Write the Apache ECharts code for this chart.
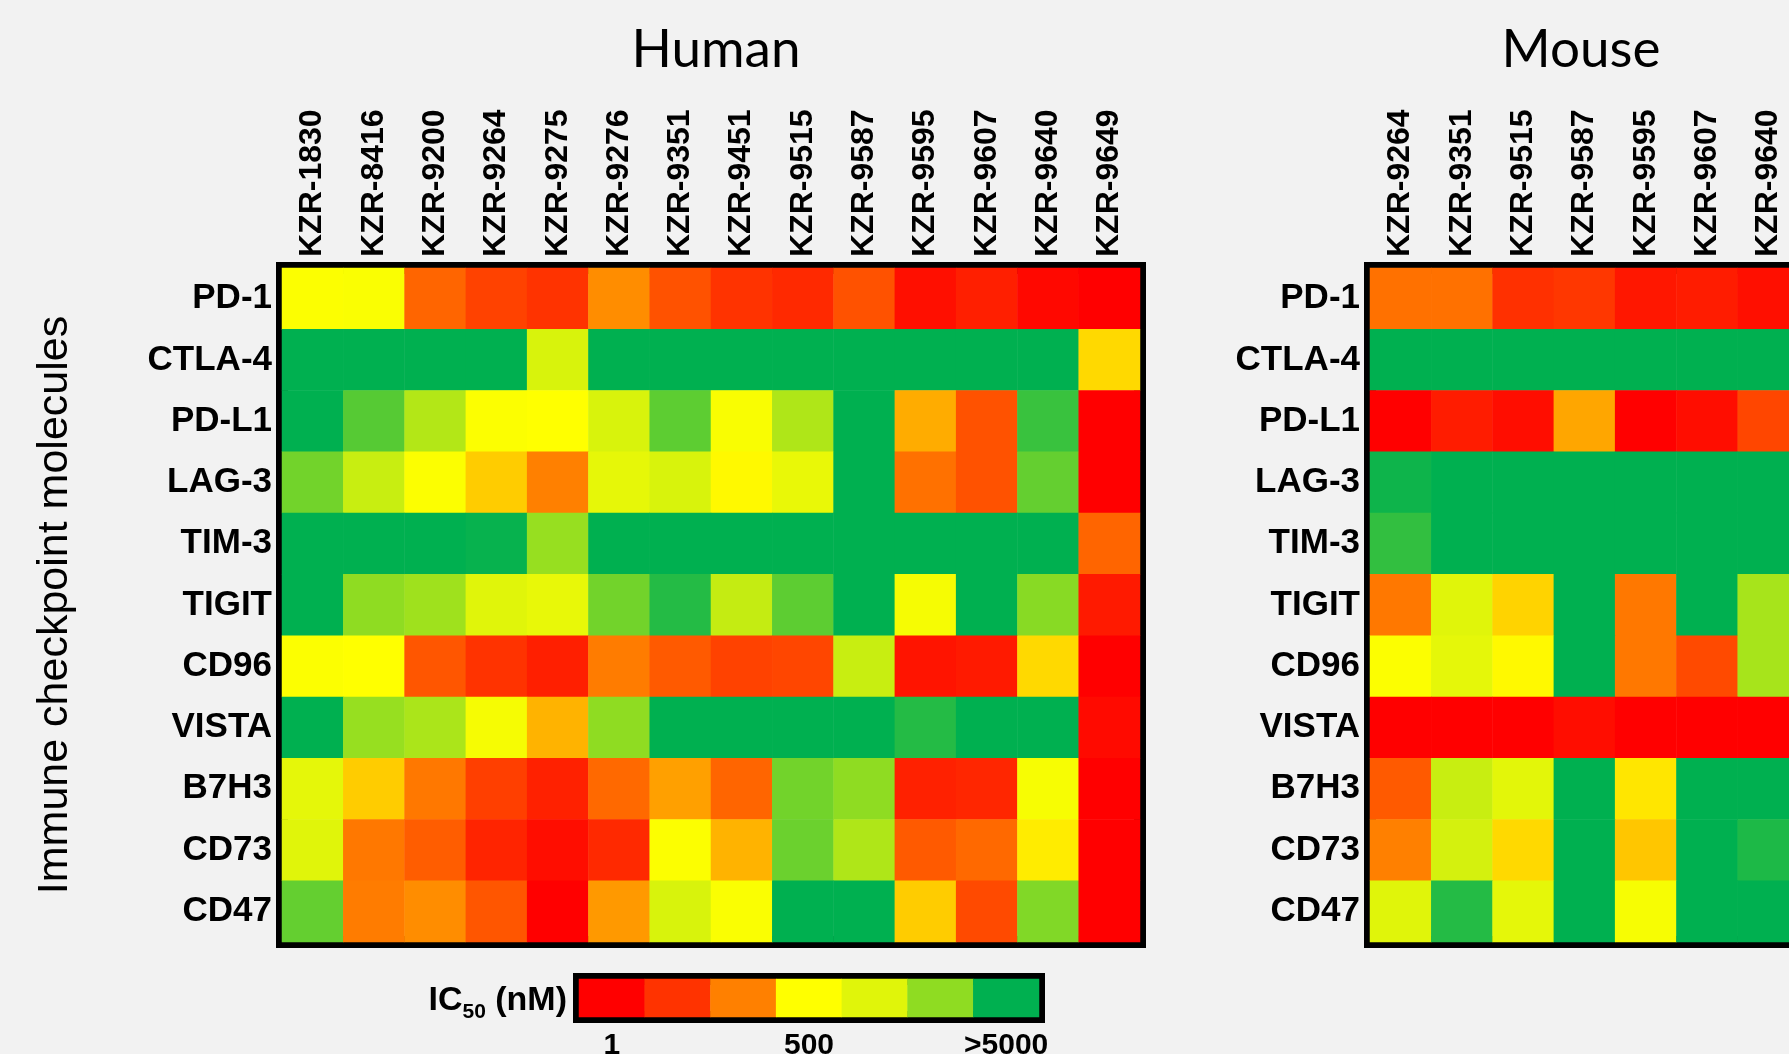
<!DOCTYPE html>
<html>
<head>
<meta charset="utf-8">
<script src="https://cdn.jsdelivr.net/npm/echarts@6/dist/echarts.min.js"></script>
<style>
  html, body { margin: 0; padding: 0; background: #f2f2f2; }
  #chart { width: 1789px; height: 1054px; }
</style>
</head>
<body>
<div id="chart"></div>
<script>
// ---- data (colour level: 0 = IC50 1 nM (red) ... 6 = >5000 nM (green)) ----
const molecules = ['PD-1','CTLA-4','PD-L1','LAG-3','TIM-3','TIGIT','CD96','VISTA','B7H3','CD73','CD47'];
const humanCompounds = ['KZR-1830','KZR-8416','KZR-9200','KZR-9264','KZR-9275','KZR-9276','KZR-9351','KZR-9451','KZR-9515','KZR-9587','KZR-9595','KZR-9607','KZR-9640','KZR-9649'];
const mouseCompounds = ['KZR-9264','KZR-9351','KZR-9515','KZR-9587','KZR-9595','KZR-9607','KZR-9640'];

const humanLevels = [
  [3.1, 3.15, 1.65, 1.2, 1.0, 2.1, 1.4, 1.0, 0.8, 1.4, 0.3, 0.6, 0.15, 0],      // PD-1
  [6, 6, 6, 6, 4.1, 6, 6, 6, 6, 6, 6, 6, 6, 2.7],                                // CTLA-4
  [6, 5.4, 4.55, 3.1, 3.0, 4.1, 5.35, 3.2, 4.6, 6, 2.35, 1.4, 5.6, 0],           // PD-L1
  [5.2, 4.3, 3.1, 2.6, 2.0, 3.8, 4.1, 2.95, 3.7, 6, 1.8, 1.4, 5.3, 0],           // LAG-3
  [6, 6, 6, 5.95, 4.9, 6, 6, 6, 6, 6, 6, 6, 6, 1.65],                            // TIM-3
  [6, 5.0, 4.8, 4.0, 3.75, 5.2, 5.75, 4.35, 5.35, 6, 3.3, 6, 5.05, 0.5],         // TIGIT
  [3.1, 3.0, 1.45, 1.0, 0.6, 1.95, 1.5, 1.2, 1.25, 4.3, 0.4, 0.5, 2.7, 0],       // CD96
  [6, 4.9, 4.65, 3.3, 2.4, 5.0, 6, 6, 6, 6, 5.75, 6, 6, 0.2],                    // VISTA
  [3.85, 2.6, 1.9, 1.15, 0.65, 1.7, 2.25, 1.65, 5.2, 5.0, 0.65, 0.75, 3.25, 0],  // B7H3
  [4.0, 1.9, 1.55, 0.7, 0.25, 0.8, 3.1, 2.4, 5.25, 4.6, 1.5, 1.7, 2.85, 0],      // CD73
  [5.3, 1.95, 2.1, 1.45, 0, 2.2, 4.1, 3.15, 6, 6, 2.6, 1.3, 5.1, 0]              // CD47
];

const mouseLevels = [
  [1.8, 1.8, 0.95, 1.05, 0.45, 0.55, 0.3],   // PD-1
  [6, 6, 6, 6, 6, 6, 6],                      // CTLA-4
  [0, 0.55, 0.25, 2.3, 0, 0.25, 1.25],        // PD-L1
  [5.9, 6, 6, 6, 6, 6, 6],                    // LAG-3
  [5.65, 6, 6, 6, 6, 6, 6],                   // TIM-3
  [1.9, 4.0, 2.65, 6, 1.9, 6, 4.7],           // TIGIT
  [3.1, 3.85, 2.95, 6, 1.9, 1.3, 4.7],        // CD96
  [0, 0, 0, 0.25, 0, 0, 0],                   // VISTA
  [1.5, 4.3, 3.9, 6, 2.8, 6, 6],              // B7H3
  [2.0, 4.15, 2.7, 6, 2.55, 6, 5.8],          // CD73
  [4.0, 5.75, 3.85, 6, 3.25, 6, 6]            // CD47
];

const legendLevels = [0, 1, 2, 3, 4, 5, 6];
const legendTickLabels = ['1', '', '', '500', '', '', '>5000'];
const levelColors = ['#ff0000', '#ff3300', '#ff8000', '#ffff00', '#e0f50a', '#8fdc22', '#00b050'];

// ---- build ----
function toCells(matrix) {
  const out = [];
  matrix.forEach((row, r) => row.forEach((v, c) => out.push([c, r, v])));
  return out;
}

const labelFont = 'Liberation Sans, Arial, sans-serif';

const chart = echarts.init(document.getElementById('chart'), null, { renderer: 'canvas' });

const gridBorder = { show: true, borderColor: '#000', borderWidth: 12, backgroundColor: 'transparent', containLabel: false, outerBoundsMode: 'none' };

const option = {
  backgroundColor: '#f2f2f2',
  animation: false,
  title: [
    { text: 'Human', left: 711, top: 18, textAlign: 'center',
      textStyle: { fontFamily: 'Lato', fontSize: 53, fontWeight: 'normal', color: '#000' } },
    { text: 'Mouse', left: 1576, top: 18, textAlign: 'center',
      textStyle: { fontFamily: 'Lato', fontSize: 53, fontWeight: 'normal', color: '#000' } }
  ],
  grid: [
    Object.assign({ left: 282, top: 268, width: 858, height: 674 }, gridBorder),
    Object.assign({ left: 1370, top: 268, width: 429, height: 674 }, gridBorder),
    Object.assign({ left: 579, top: 979, width: 460, height: 38 }, gridBorder)
  ],
  xAxis: [
    { type: 'category', gridIndex: 0, data: humanCompounds, position: 'top',
      axisLine: { show: false }, axisTick: { show: false }, splitLine: { show: false },
      axisLabel: { rotate: -90, margin: 11, interval: 0, fontFamily: labelFont, fontWeight: 'bold', fontSize: 32, color: '#000' } },
    { type: 'category', gridIndex: 1, data: mouseCompounds, position: 'top',
      axisLine: { show: false }, axisTick: { show: false }, splitLine: { show: false },
      axisLabel: { rotate: -90, margin: 11, interval: 0, fontFamily: labelFont, fontWeight: 'bold', fontSize: 32, color: '#000' } },
    { type: 'category', gridIndex: 2, data: legendTickLabels.map((t, i) => String(i)), position: 'bottom',
      axisLine: { show: false }, axisTick: { show: false }, splitLine: { show: false },
      axisLabel: { margin: 14, interval: 0, fontFamily: labelFont, fontWeight: 'bold', fontSize: 30, color: '#000',
        formatter: (v, i) => legendTickLabels[i] } }
  ],
  yAxis: [
    { type: 'category', gridIndex: 0, data: molecules, inverse: true,
      axisLine: { show: false }, axisTick: { show: false }, splitLine: { show: false },
      axisLabel: { margin: 10, interval: 0, fontFamily: labelFont, fontWeight: 'bold', fontSize: 35, color: '#000' },
      name: 'Immune checkpoint molecules', nameLocation: 'middle', nameRotate: 90, nameGap: 205,
      nameTextStyle: { fontFamily: labelFont, fontSize: 43, fontWeight: 'normal', color: '#000' } },
    { type: 'category', gridIndex: 1, data: molecules, inverse: true,
      axisLine: { show: false }, axisTick: { show: false }, splitLine: { show: false },
      axisLabel: { margin: 10, interval: 0, fontFamily: labelFont, fontWeight: 'bold', fontSize: 35, color: '#000' } },
    { type: 'category', gridIndex: 2, data: ['IC50'],
      axisLine: { show: false }, axisTick: { show: false }, splitLine: { show: false },
      axisLabel: { margin: 12, fontFamily: labelFont, fontWeight: 'bold', color: '#000',
        padding: [16, 0, 0, 0],
        formatter: () => '{b|IC}{s|50}{b| (nM)}',
        rich: {
          b: { fontFamily: labelFont, fontWeight: 'bold', fontSize: 34, color: '#000', verticalAlign: 'bottom', lineHeight: 34, padding: [0, 0, 5, 0] },
          s: { fontFamily: labelFont, fontWeight: 'bold', fontSize: 21, color: '#000', verticalAlign: 'bottom', lineHeight: 21 }
        } } }
  ],
  visualMap: {
    type: 'continuous', min: 0, max: 6, show: false, calculable: false,
    seriesIndex: [0, 1, 2],
    inRange: { color: levelColors }
  },
  series: [
    { type: 'heatmap', xAxisIndex: 0, yAxisIndex: 0, data: toCells(humanLevels), itemStyle: { borderWidth: 0 } },
    { type: 'heatmap', xAxisIndex: 1, yAxisIndex: 1, data: toCells(mouseLevels), itemStyle: { borderWidth: 0 } },
    { type: 'heatmap', xAxisIndex: 2, yAxisIndex: 2, data: legendLevels.map((v, i) => [i, 0, v]), itemStyle: { borderWidth: 0 } }
  ]
};

chart.setOption(option);
</script>
</body>
</html>
